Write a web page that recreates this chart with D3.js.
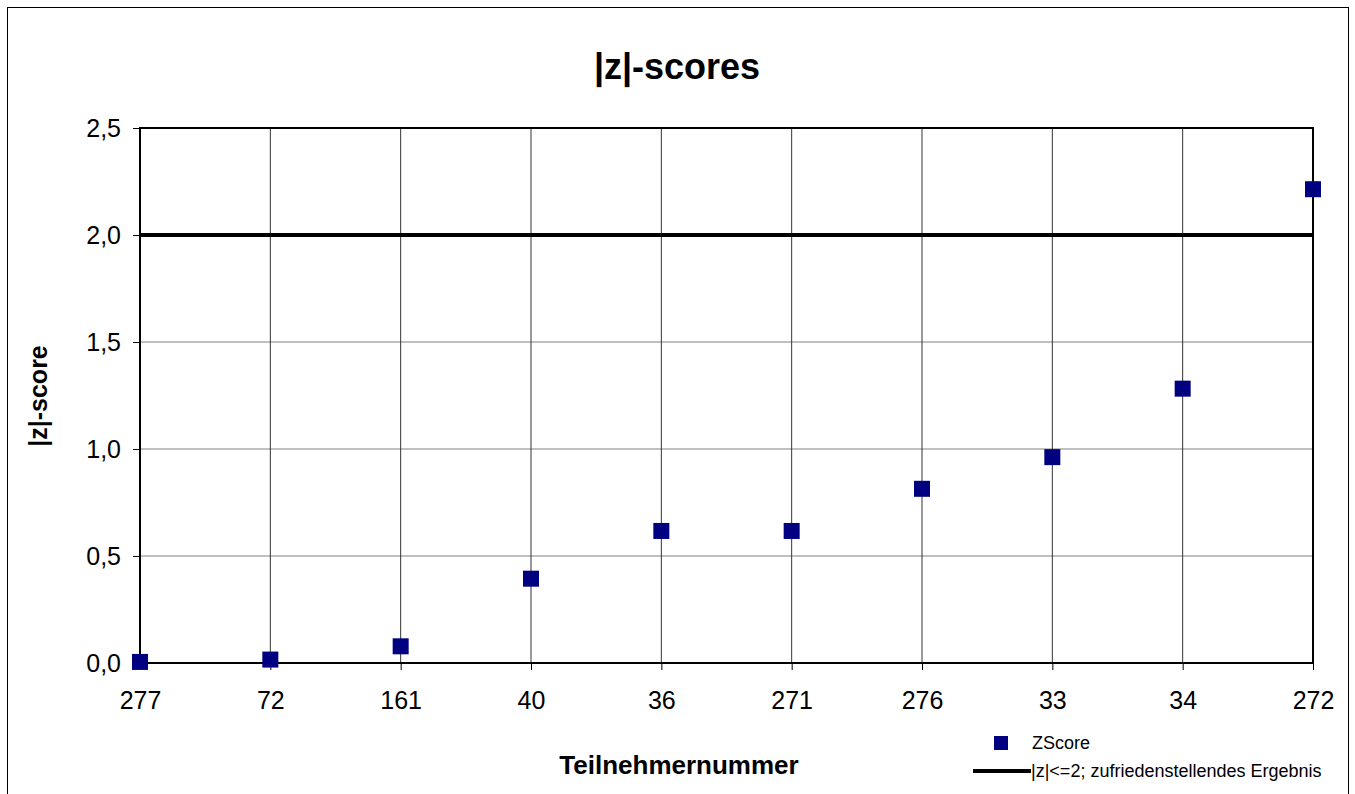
<!DOCTYPE html>
<html>
<head>
<meta charset="utf-8">
<script src="https://cdn.jsdelivr.net/npm/d3@7"></script>
<style>
  body { margin: 0; background: #fff; }
  text { font-family: "Liberation Sans", Arial, sans-serif; }
</style>
</head>
<body>
<div id="chart"></div>
<script>
const participants = ['277', '72', '161', '40', '36', '271', '276', '33', '34', '272'];
const zScores = [0.005, 0.016, 0.078, 0.394, 0.617, 0.617, 0.814, 0.962, 1.282, 2.214];
const limitValue = [2.0];
const yTicks = [0, 0.5, 1.0, 1.5, 2.0, 2.5];

const width = 1355;
const height = 794;
const margin = { left: 140, right: 42, top: 128, bottom: 131 };
const plotW = width - margin.left - margin.right;
const plotH = height - margin.top - margin.bottom;

const svg = d3.select('#chart')
  .append('svg')
  .attr('width', width)
  .attr('height', height);

// outer frame
svg.append('rect')
  .attr('x', 7.5).attr('y', 7.5)
  .attr('width', 1341).attr('height', 800)
  .attr('fill', 'none')
  .attr('stroke', '#000')
  .attr('stroke-width', 1);

// Scales
const x = d3.scalePoint()
  .domain(participants)
  .range([0, plotW])
  .padding(0);

const y = d3.scaleLinear()
  .domain([0, 2.5])
  .range([plotH, 0]);

const g = svg.append('g')
  .attr('transform', 'translate(' + margin.left + ',' + margin.top + ')');

// horizontal gridlines
g.append('g')
  .selectAll('line')
  .data(yTicks.slice(1, -1))
  .enter()
  .append('line')
  .attr('x1', 0).attr('x2', plotW)
  .attr('y1', d => y(d)).attr('y2', d => y(d))
  .attr('stroke', '#808080')
  .attr('stroke-width', 1);

// vertical gridlines
g.append('g')
  .selectAll('line')
  .data(participants.slice(1, -1))
  .enter()
  .append('line')
  .attr('x1', d => x(d)).attr('x2', d => x(d))
  .attr('y1', 0).attr('y2', plotH)
  .attr('stroke', '#333')
  .attr('stroke-width', 1);

// Axes
const axisY = d3.axisLeft(y)
  .tickValues(yTicks)
  .tickSize(7)
  .tickPadding(12)
  .tickFormat(d => d3.format('.1f')(d).replace('.', ','));

const yAxisG = g.append('g').call(axisY);
yAxisG.select('.domain').remove();
yAxisG.selectAll('text')
  .attr('font-size', '25px')
  .attr('fill', '#000')
  .attr('font-family', '"Liberation Sans", Arial, sans-serif');

const axisX = d3.axisBottom(x)
  .tickSize(7)
  .tickPadding(21);

const xAxisG = g.append('g')
  .attr('transform', 'translate(0,' + plotH + ')')
  .call(axisX);
xAxisG.select('.domain').remove();
xAxisG.selectAll('text')
  .attr('font-size', '25px')
  .attr('fill', '#000')
  .attr('font-family', '"Liberation Sans", Arial, sans-serif');

// plot border
g.append('rect')
  .attr('x', 0).attr('y', 0)
  .attr('width', plotW).attr('height', plotH)
  .attr('fill', 'none')
  .attr('stroke', '#000')
  .attr('stroke-width', 2);

// limit line
g.selectAll('.limit')
  .data(limitValue)
  .enter()
  .append('line')
  .attr('class', 'limit')
  .attr('x1', 0).attr('x2', plotW)
  .attr('y1', d => y(d)).attr('y2', d => y(d))
  .attr('stroke', '#000')
  .attr('stroke-width', 4);

// markers
const ms = 16;
g.selectAll('.pt')
  .data(zScores)
  .enter()
  .append('rect')
  .attr('class', 'pt')
  .attr('x', (d, i) => x(participants[i]) - ms / 2)
  .attr('y', d => y(d) - ms / 2)
  .attr('width', ms)
  .attr('height', ms)
  .attr('fill', '#000080');

// Title and axis labels
svg.append('text')
  .text('|z|-scores')
  .attr('x', 677).attr('y', 79)
  .attr('text-anchor', 'middle')
  .attr('font-size', '36px')
  .attr('font-weight', 'bold');

svg.append('text')
  .text('|z|-score')
  .attr('transform', 'translate(47,396) rotate(-90)')
  .attr('text-anchor', 'middle')
  .attr('font-size', '25px')
  .attr('font-weight', 'bold');

svg.append('text')
  .text('Teilnehmernummer')
  .attr('x', 679).attr('y', 774)
  .attr('text-anchor', 'middle')
  .attr('font-size', '26px')
  .attr('font-weight', 'bold');

// Legend
const legend = svg.append('g');
legend.append('rect')
  .attr('x', 994).attr('y', 736)
  .attr('width', 14).attr('height', 14)
  .attr('fill', '#000080');
legend.append('text')
  .text('ZScore')
  .attr('x', 1032).attr('y', 749)
  .attr('font-size', '18px');
legend.append('line')
  .attr('x1', 973).attr('x2', 1031)
  .attr('y1', 771).attr('y2', 771)
  .attr('stroke', '#000')
  .attr('stroke-width', 4);
legend.append('text')
  .text('|z|<=2; zufriedenstellendes Ergebnis')
  .attr('x', 1031).attr('y', 777)
  .attr('font-size', '18px');
</script>
</body>
</html>
